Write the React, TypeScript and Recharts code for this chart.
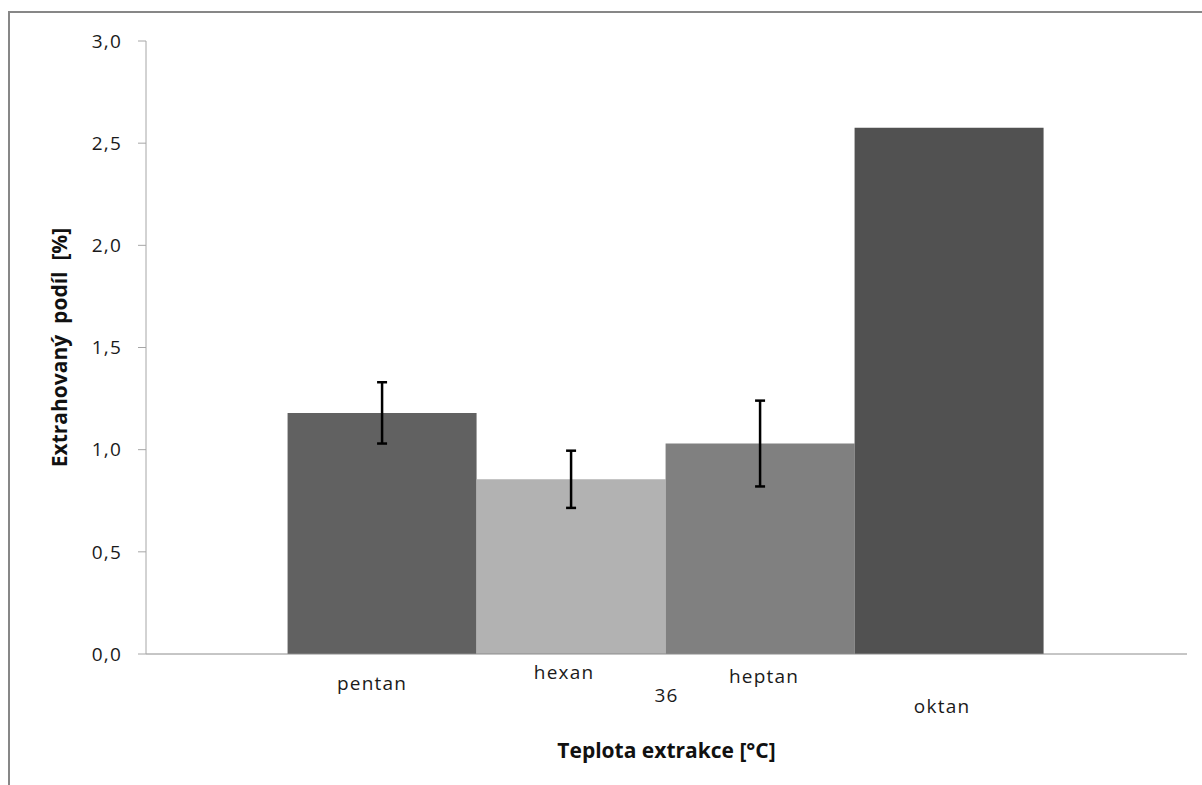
import React from 'react';
import { BarChart, Bar, XAxis, YAxis, ErrorBar, LabelList } from 'recharts';

const categories = ['36'];
const seriesNames = ['pentan', 'hexan', 'heptan', 'oktan'];
const seriesValues = [[1.18], [0.855], [1.03], [2.575]];
const seriesErrors = [[0.15], [0.14], [0.21], [null]];
const yTicks = [0, 0.5, 1, 1.5, 2, 2.5, 3];

const colors = ['#616161', '#b2b2b2', '#808080', '#515151'];
// where each series name sits below its bar (dx, dy from the bar foot)
const nameOffsets = [[-10, 29], [-7, 18], [4, 22], [-7, 52]];

const data = categories.map((c, i) => {
  const row: any = { name: c };
  seriesNames.forEach((s, k) => {
    row[s] = seriesValues[k][i];
    row[s + 'Err'] = seriesErrors[k][i];
  });
  return row;
});

const font = '"Open Sans", sans-serif';
const fmt = (v: number) => v.toFixed(1).replace('.', ',');

const YTitle = (props: any) => {
  const vb = props.viewBox || {};
  const cx = 59;
  const cy = vb.y + vb.height / 2;
  return (
    <text x={cx} y={cy} transform={`rotate(-90 ${cx} ${cy})`} textAnchor="middle" dominantBaseline="central"
      fontFamily={font} fontSize={21} fontWeight="bold" fill="#111" style={{ whiteSpace: 'pre' }}>
      {'Extrahovaný  podíl  [%]'}
    </text>
  );
};

const nameLabel = (k: number) => (props: any) => {
  const { x, y, width, height } = props;
  const [dx, dy] = nameOffsets[k];
  return (
    <text x={x + width / 2 + dx} y={y + height + dy} textAnchor="middle" dominantBaseline="central"
      fontFamily={font} fontSize={19} letterSpacing={1.2} fill="#1a1a1a">
      {seriesNames[k]}
    </text>
  );
};

export default function App() {
  return (
    <div style={{ position: 'absolute', left: 0, top: 0, width: 1202, height: 785, background: '#fff' }}>
      <div style={{ position: 'absolute', left: 8, top: 11, right: 0, bottom: 0, borderLeft: '2px solid #878787', borderTop: '2px solid #878787' }} />
      <div style={{ position: 'absolute', left: 0, top: 0 }}>
        <BarChart width={1202} height={785} data={data} margin={{ top: 41, right: 15, left: 0, bottom: 0 }}
          barCategoryGap="13.6%" barGap={0}>
          <XAxis dataKey="name" height={131} tickLine={false} tickMargin={29} stroke="#8c8c8c"
            tick={{ fontFamily: font, fontSize: 19, letterSpacing: 1.2, fill: '#1a1a1a' }}
            label={{ value: 'Teplota extrakce [°C]', position: 'insideBottom', offset: 27, fontFamily: font, fontSize: 21, fontWeight: 'bold', fill: '#111' }} />
          <YAxis width={146} domain={[0, 3]} ticks={yTicks} tickFormatter={fmt} tickSize={8} tickMargin={16}
            stroke="#a6a6a6" tick={{ fontFamily: font, fontSize: 19, letterSpacing: 1.2, fill: '#1a1a1a' }}
            label={{ content: YTitle }} />
          {seriesNames.map((s, k) => (
            <Bar key={s} dataKey={s} fill={colors[k]} isAnimationActive={false}>
              {seriesErrors[k][0] != null && (
                <ErrorBar dataKey={s + 'Err'} width={5} stroke="#000" strokeWidth={2.5} direction="y" />
              )}
              <LabelList dataKey={s} content={nameLabel(k)} />
            </Bar>
          ))}
        </BarChart>
      </div>
    </div>
  );
}
